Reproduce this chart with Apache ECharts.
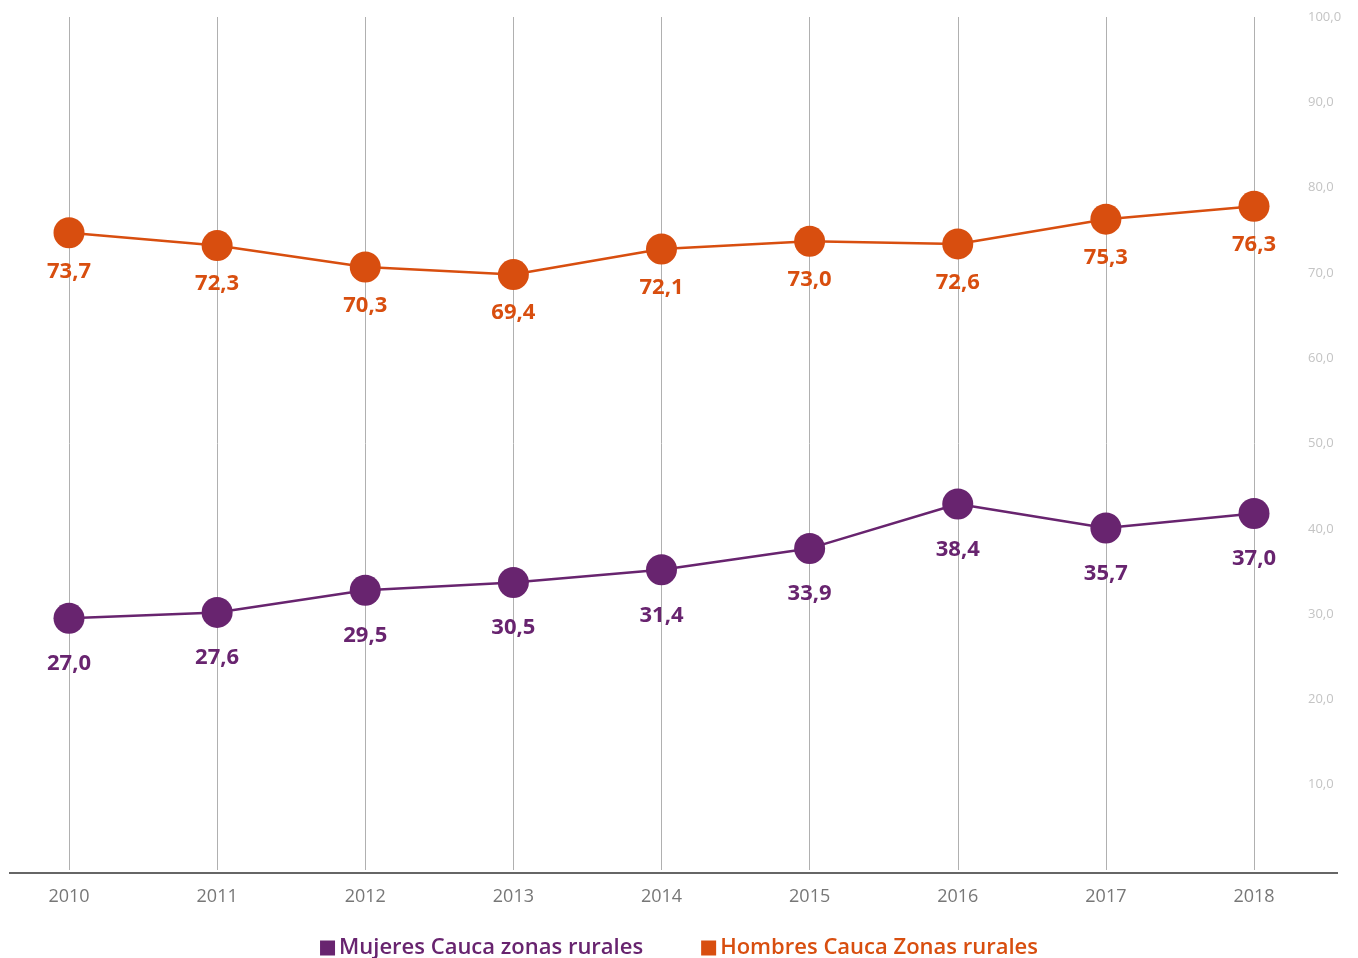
<!DOCTYPE html>
<html>
<head>
<meta charset="utf-8">
<script src="https://cdn.jsdelivr.net/npm/echarts@6/dist/echarts.min.js"></script>
<style>
  html, body { margin: 0; padding: 0; background: #fff; }
  #main_chart { width: 1358px; height: 958px; }
</style>
</head>
<body>
<div id="main_chart"></div>
<script>
// años
var years = ['2010', '2011', '2012', '2013', '2014', '2015', '2016', '2017', '2018'];

// posiciones de los puntos tal como aparecen en el gráfico
var mujeres = [29.5, 30.2, 32.8, 33.7, 35.2, 37.7, 42.9, 40.1, 41.8];
var hombres = [74.7, 73.2, 70.7, 69.8, 72.8, 73.7, 73.4, 76.3, 77.8];

// etiquetas impresas junto a cada punto
var mujeresLabels = ['27,0', '27,6', '29,5', '30,5', '31,4', '33,9', '38,4', '35,7', '37,0'];
var hombresLabels = ['73,7', '72,3', '70,3', '69,4', '72,1', '73,0', '72,6', '75,3', '76,3'];

var purple = '#68246f';
var orange = '#d84e0f';
var font = '"Open Sans", "Noto Sans", sans-serif';

var myChart = echarts.init(document.getElementById('main_chart'));

var option = {
    animation: false,
    textStyle: { fontFamily: font },
    grid: { left: 69, right: 104, top: 17, bottom: 88 },
    legend: {
        top: 932,
        left: 'center',
        icon: 'rect',
        itemWidth: 15,
        itemHeight: 15,
        itemGap: 58,
        textStyle: { fontSize: 22, fontWeight: 600, fontFamily: font, padding: [0, 0, 0, -1] },
        data: [
            { name: 'Mujeres Cauca zonas rurales', textStyle: { color: purple } },
            { name: 'Hombres Cauca Zonas rurales', textStyle: { color: orange } }
        ]
    },
    xAxis: {
        type: 'category',
        boundaryGap: false,
        data: years,
        axisLine: { show: false },
        axisTick: { show: false },
        axisLabel: { color: '#777', fontSize: 18, margin: 18, fontFamily: font },
        splitLine: { show: true, lineStyle: { color: '#b0b0b0', width: 1 } }
    },
    yAxis: {
        type: 'value',
        position: 'right',
        min: 0,
        max: 100,
        interval: 10,
        axisLine: { show: false },
        axisTick: { show: false },
        splitLine: { show: false },
        axisLabel: {
            color: '#c4c4c4',
            fontSize: 13,
            margin: 54,
            align: 'left',
            fontFamily: font,
            formatter: function (v) { return v === 0 ? '' : v.toFixed(1).replace('.', ','); }
        }
    },
    graphic: [{
        type: 'line',
        shape: { x1: 9, y1: 873, x2: 1338, y2: 873 },
        style: { stroke: '#333', lineWidth: 1.5 },
        z: 10
    }],
    series: [
        {
            name: 'Mujeres Cauca zonas rurales',
            type: 'line',
            data: mujeres,
            color: purple,
            symbol: 'circle',
            symbolSize: 31,
            lineStyle: { width: 2.5, color: purple },
            itemStyle: { color: purple },
            label: {
                show: true,
                position: 'bottom',
                distance: 19,
                color: purple,
                fontSize: 22,
                fontWeight: 'bold',
                fontFamily: font,
                formatter: function (p) { return mujeresLabels[p.dataIndex]; }
            }
        },
        {
            name: 'Hombres Cauca Zonas rurales',
            type: 'line',
            data: hombres,
            color: orange,
            symbol: 'circle',
            symbolSize: 31,
            lineStyle: { width: 2.5, color: orange },
            itemStyle: { color: orange },
            label: {
                show: true,
                position: 'bottom',
                distance: 12,
                color: orange,
                fontSize: 22,
                fontWeight: 'bold',
                fontFamily: font,
                formatter: function (p) { return hombresLabels[p.dataIndex]; }
            }
        }
    ]
};
myChart.setOption(option);
</script>
</body>
</html>
